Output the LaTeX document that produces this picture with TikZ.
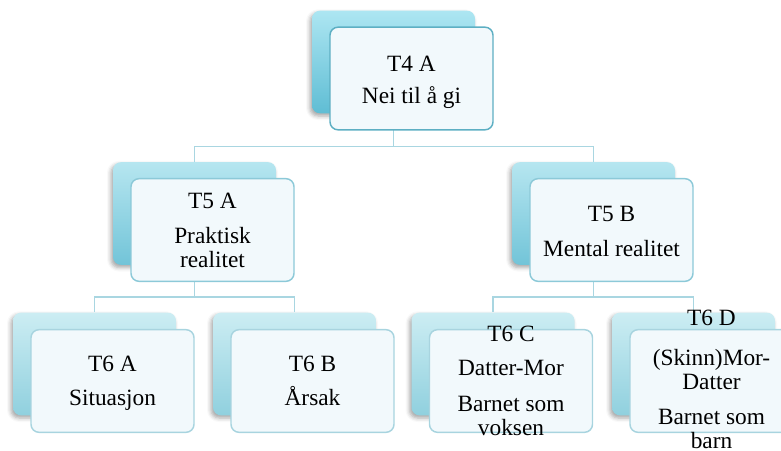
\documentclass[tikz,border=0pt]{standalone}
\usepackage{fontspec}
\setmainfont{Liberation Serif}
\usetikzlibrary{shadows.blur}

\definecolor{linkcol}{HTML}{A9D6E1}
\definecolor{topA}{HTML}{ADE6F2}
\definecolor{botA}{HTML}{5FBDD4}
\definecolor{topB}{HTML}{B6E6F0}
\definecolor{botB}{HTML}{72C4D8}
\definecolor{topC}{HTML}{CCEDF3}
\definecolor{botC}{HTML}{90D0DE}
\definecolor{edgeA}{HTML}{5DAFC3}
\definecolor{edgeB}{HTML}{8CC9D8}
\definecolor{edgeC}{HTML}{A8D4DF}
\definecolor{facecol}{HTML}{F2F9FC}

\begin{document}
\begin{tikzpicture}[x=0.75pt,y=-0.75pt,
  backbox/.style={rounded corners=6pt, minimum width=122.25pt, minimum height=77pt,
    inner sep=0pt, draw=none,
    blur shadow={shadow xshift=-1.5pt, shadow yshift=-2pt, shadow blur radius=3pt, shadow opacity=35}},
  lvlA/.style={backbox, top color=topA, bottom color=botA},
  lvlB/.style={backbox, top color=topB, bottom color=botB},
  lvlC/.style={backbox, top color=topC, bottom color=botC},
  facebox/.style={rounded corners=6pt, minimum width=122.25pt, minimum height=77pt,
    inner sep=0pt, fill=facecol, line width=1.1pt},
  link/.style={draw=linkcol, line width=1.1pt},
  label/.style={align=center, anchor=base, inner sep=0pt,
    font=\fontsize{17.5}{18}\selectfont}
]
\useasboundingbox (0,0) rectangle (781,450);
\clip (0,0) rectangle (781,450);

% back panels
\node[lvlA] (b4)  at (393.5,62)    {};
\node[lvlB] (b5a) at (194.5,213.5) {};
\node[lvlB] (b5b) at (593.5,213.5) {};
\node[lvlC] (b6a) at (94.5,364)    {};
\node[lvlC] (b6b) at (294.5,364)   {};
\node[lvlC] (b6c) at (493,364)     {};
\node[lvlC] (b6d) at (693.5,364)   {};

% connectors
\draw[link] (b4.south) -- ++(0,33) -| (b5a.north);
\draw[link] (b4.south) -- ++(0,33) -| (b5b.north);
\draw[link] (b5a.south) -- ++(0,32) -| (b6a.north);
\draw[link] (b5a.south) -- ++(0,32) -| (b6b.north);
\draw[link] (b5b.south) -- ++(0,32) -| (b6c.north);
\draw[link] (b5b.south) -- ++(0,32) -| (b6d.north);

% front panels
\node[facebox, draw=edgeA] (f4)  at (411.5,78.5) {};
\node[facebox, draw=edgeB] (f5a) at (212.5,230)  {};
\node[facebox, draw=edgeB] (f5b) at (611.5,230)  {};
\node[facebox, draw=edgeC] (f6a) at (112.5,381)  {};
\node[facebox, draw=edgeC] (f6b) at (312.5,381)  {};
\node[facebox, draw=edgeC] (f6c) at (511,381)    {};
\node[facebox, draw=edgeC] (f6d) at (711.5,381)  {};

% texts (anchored on the baseline of the last line)
\node[label] (t4)  at (411.5,103) {T4 A\\[6pt] Nei til å gi};
\node[label] (t5a) at (212.5,267) {T5 A\\[8pt] Praktisk\\ realitet};
\node[label] (t5b) at (611.5,256) {T5 B\\[8pt] Mental realitet};
\node[label] (t6a) at (112.5,405) {T6 A\\[7pt] Situasjon};
\node[label] (t6b) at (312.5,405) {T6 B\\[7pt] Årsak};
\node[label] (t6c) at (511,435)   {T6 C\\[7pt] Datter-Mor\\[9pt] Barnet som\\ voksen};
\node[label] (t6d) at (711.5,448) {T6 D\\[12pt] (Skinn)Mor-\\ Datter\\[8pt] Barnet som\\ barn};
\end{tikzpicture}
\end{document}
